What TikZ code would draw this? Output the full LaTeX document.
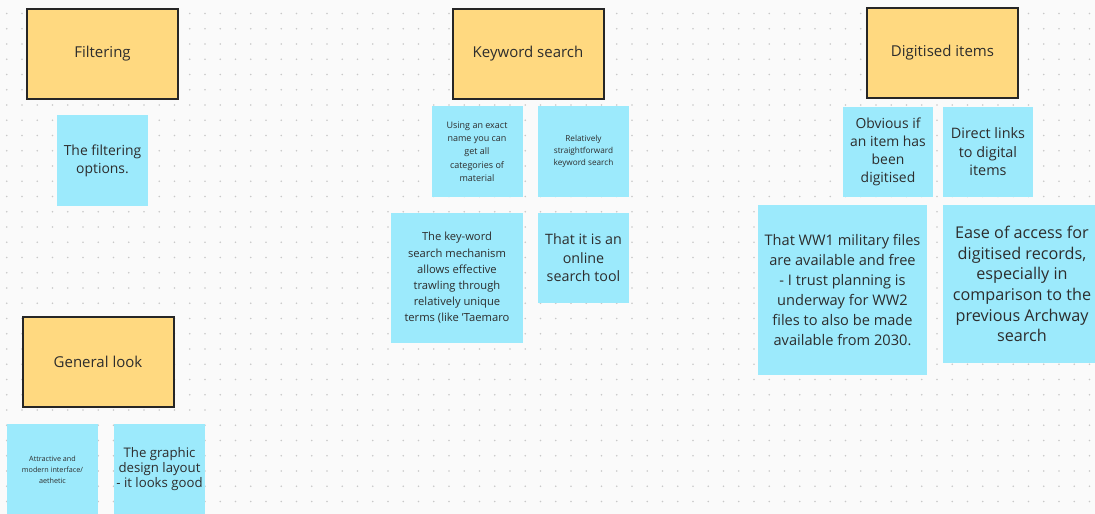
\documentclass[tikz,border=0pt]{standalone}
\usepackage{fontspec}
\setmainfont{Open Sans}
\usepackage{tikz}
\usepackage{xcolor}
\definecolor{ColHead}{RGB}{255,217,128}
\definecolor{ColNote}{RGB}{156,234,252}
\definecolor{ColDot}{RGB}{200,200,200}
\definecolor{ColText}{RGB}{45,45,45}
\definecolor{ColBack}{RGB}{250,250,250}
\tikzstyle{NodeHead}=[rectangle,draw=black!85,fill=ColHead,line width=2pt,
minimum width=151pt,minimum height=90pt,text=ColText,font=\fontsize{15}{18}\selectfont]
\tikzstyle{NodeNote}=[rectangle,fill=ColNote,inner sep=0pt,minimum width=91pt,
minimum height=91pt,align=center,text=ColText]
\newcommand{\fsz}[2]{\fontsize{#1}{#2}\selectfont}

\begin{document}
\begin{tikzpicture}[x=1pt,y=-1pt]
        \useasboundingbox(0,0)rectangle(1095,514);
        \clip(0,0)rectangle(1095,514);
        \fill[ColBack](0,0)rectangle(1095,514);
        \foreach \i in {0,...,71}
            \foreach \j in {0,...,33}
                \fill[ColDot](6.8+15.25*\i,13.5+15.25*\j)circle(0.9);
        % headers
        \node[NodeHead](filt)at(102.5,54){Filtering};
        \node[NodeHead](kwd)at(528,54){Keyword search};
        \node[NodeHead](digi)at(942.5,52.5){Digitised items};
        \node[NodeHead](look)at(98,362){General look};
        % filtering
        \node[NodeNote,font=\fsz{13.9}{18}](filtA)at(102.5,160.5){The filtering\\options.};
        % keyword search
        \node[NodeNote,font=\fsz{9}{13.3}](kwdA)at(477,151.5){Using an exact\\name you can\\get all\\categories of\\material};
        \node[NodeNote,font=\fsz{8.2}{12}](kwdB)at(583.5,151.5){Relatively\\straightforward\\keyword search};
        \node[NodeNote,minimum width=132pt,minimum height=130pt,font=\fsz{11.2}{16.2}](kwdC)at(457,278){The key-word\\search mechanism\\allows effective\\trawling through\\relatively unique\\terms (like 'Taemaro};
        \node[NodeNote,minimum height=90pt,font=\fsz{14.3}{18.5}](kwdD)at(583.5,258){That it is an\\online\\search tool};
        % digitised items
        \node[NodeNote,minimum width=90pt,minimum height=90pt,font=\fsz{13.9}{18}](digiA)at(888,152){Obvious if\\an item has\\been\\digitised};
        \node[NodeNote,minimum width=90pt,minimum height=90pt,font=\fsz{14.4}{18.5}](digiB)at(988,152){Direct links\\to digital\\items};
        \node[NodeNote,minimum width=169pt,minimum height=170pt,font=\fsz{14.6}{20}](digiC)at(842.5,290){That WW1 military files\\are available and free\\- I trust planning is\\underway for WW2\\files to also be made\\available from 2030.};
        \node[NodeNote,minimum width=158pt,minimum height=158pt,font=\fsz{16.2}{20.7}](digiD)at(1022,284){Ease of access for\\digitised records,\\especially in\\comparison to the\\previous Archway\\search};
        % general look
        \node[NodeNote,font=\fsz{7.2}{11}](lookA)at(52.5,469.5){Attractive and\\modern interface/\\aethetic};
        \node[NodeNote,font=\fsz{13.2}{15}](lookB)at(159.5,469.5){The graphic\\design layout\\- it looks good};
    \end{tikzpicture}
\end{document}
